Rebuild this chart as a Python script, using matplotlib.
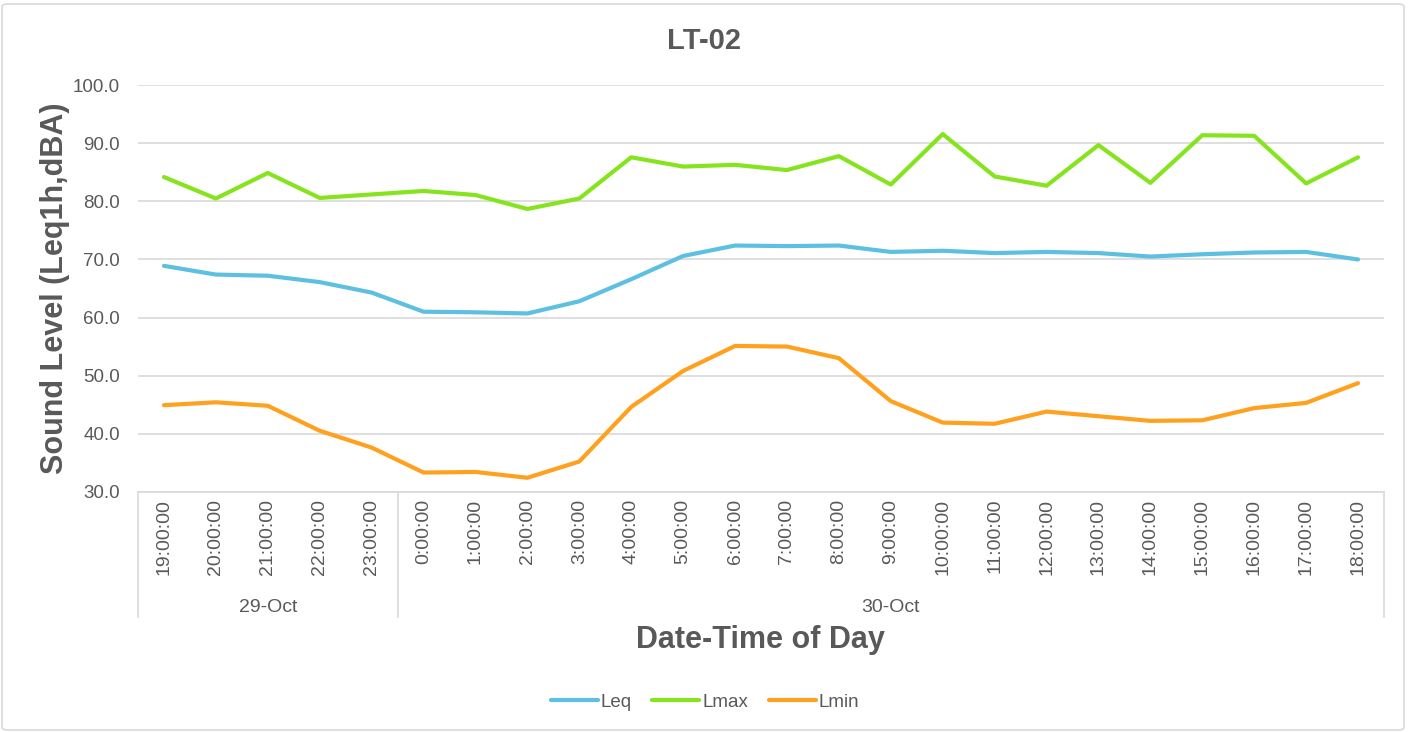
import numpy as np
import matplotlib
matplotlib.use("Agg")
import matplotlib.pyplot as plt
import matplotlib.transforms as mtransforms
from matplotlib.patches import FancyBboxPatch

plt.rcParams['font.family'] = ['Liberation Sans', 'DejaVu Sans']

# datos
horas = ['19:00:00', '20:00:00', '21:00:00', '22:00:00', '23:00:00',
         '0:00:00', '1:00:00', '2:00:00', '3:00:00', '4:00:00', '5:00:00',
         '6:00:00', '7:00:00', '8:00:00', '9:00:00', '10:00:00', '11:00:00',
         '12:00:00', '13:00:00', '14:00:00', '15:00:00', '16:00:00',
         '17:00:00', '18:00:00']
fechas = ['29-Oct', '30-Oct']
n_por_fecha = [5, 19]

leq = [68.9, 67.4, 67.2, 66.1, 64.3, 61.0, 60.9, 60.7, 62.8, 66.6, 70.6,
       72.4, 72.3, 72.4, 71.3, 71.5, 71.1, 71.3, 71.1, 70.5, 70.9, 71.2,
       71.3, 70.0]
lmax = [84.2, 80.5, 84.9, 80.6, 81.2, 81.8, 81.1, 78.7, 80.5, 87.6, 86.0,
        86.3, 85.4, 87.8, 82.9, 91.6, 84.3, 82.7, 89.7, 83.2, 91.4, 91.3,
        83.1, 87.6]
lmin = [44.9, 45.4, 44.8, 40.5, 37.6, 33.3, 33.4, 32.4, 35.2, 44.6, 50.8,
        55.1, 55.0, 53.0, 45.6, 41.9, 41.7, 43.8, 43.0, 42.2, 42.3, 44.4,
        45.3, 48.7]

gris_texto = '#595959'
gris_linea = '#D9D9D9'

fig = plt.figure(figsize=(14.08, 7.32), dpi=100)
ax = fig.add_axes([138/1408, 1 - 491.7/732, (1384 - 138)/1408, (491.7 - 85.3)/732])

x = np.arange(len(horas))
ax.plot(x, leq, color='#5EC0E0', lw=3, label='Leq', solid_capstyle='round')
ax.plot(x, lmax, color='#86E41F', lw=3, label='Lmax', solid_capstyle='round')
ax.plot(x, lmin, color='#FFA11E', lw=3, label='Lmin', solid_capstyle='round')

ax.set_xlim(-0.5, len(horas) - 0.5)
ax.set_ylim(30, 100)
ax.set_yticks(np.arange(30, 101, 10))
ax.set_yticklabels([f'{v:.1f}' for v in np.arange(30, 101, 10)])
ax.set_xticks(x)
ax.set_xticklabels(horas, rotation=90, va='top')
ax.tick_params(axis='both', length=0, colors=gris_texto)
ax.tick_params(axis='y', pad=13, labelsize=13.5)
ax.tick_params(axis='x', pad=5, labelsize=14)

ax.grid(axis='y', color=gris_linea, lw=1.2)
ax.set_axisbelow(True)
for s in ['top', 'right', 'left']:
    ax.spines[s].set_visible(False)
ax.spines['bottom'].set_color(gris_linea)
ax.spines['bottom'].set_linewidth(1.2)

# eje de categorias en dos niveles
trans = mtransforms.blended_transform_factory(ax.transData, ax.transAxes)
y_fondo = -(617 - 491.7) / 406.4
bordes = np.concatenate([[0], np.cumsum(n_por_fecha)]) - 0.5
for b in bordes:
    ax.plot([b, b], [0, y_fondo], color=gris_linea, lw=1.2, transform=trans, clip_on=False)
for i, f in enumerate(fechas):
    centro = (bordes[i] + bordes[i + 1]) / 2
    ax.text(centro, -(607 - 491.7) / 406.4, f, transform=trans, ha='center', va='center',
            fontsize=14, color=gris_texto)

# titulos
fig.text(704/1408, 1 - 41/732, 'LT-02', ha='center', va='center', fontsize=21,
         fontweight='bold', color=gris_texto)
fig.text(760/1408, 1 - 640/732, 'Date-Time of Day', ha='center', va='center',
         fontsize=22, fontweight='bold', color=gris_texto)
fig.text(55/1408, 1 - 288.5/732, 'Sound Level (Leq1h,dBA)', ha='center', va='center',
         rotation=90, fontsize=22, fontweight='bold', color=gris_texto)

leg = fig.legend(loc='center', bbox_to_anchor=(705/1408, 1 - 702/732), ncol=3,
                 frameon=False, fontsize=13.5, handlelength=2.5, handletextpad=0.15,
                 columnspacing=1.1)
for t in leg.get_texts():
    t.set_color(gris_texto)

# borde del grafico
marco = FancyBboxPatch((2/1408, 2/732), 1 - 6/1408, 1 - 6/732,
                       boxstyle='round,pad=0,rounding_size=0.004', transform=fig.transFigure,
                       fill=False, edgecolor=gris_linea, lw=1.2)
fig.patches.append(marco)

fig.savefig('out.png', dpi=100, facecolor='white')
